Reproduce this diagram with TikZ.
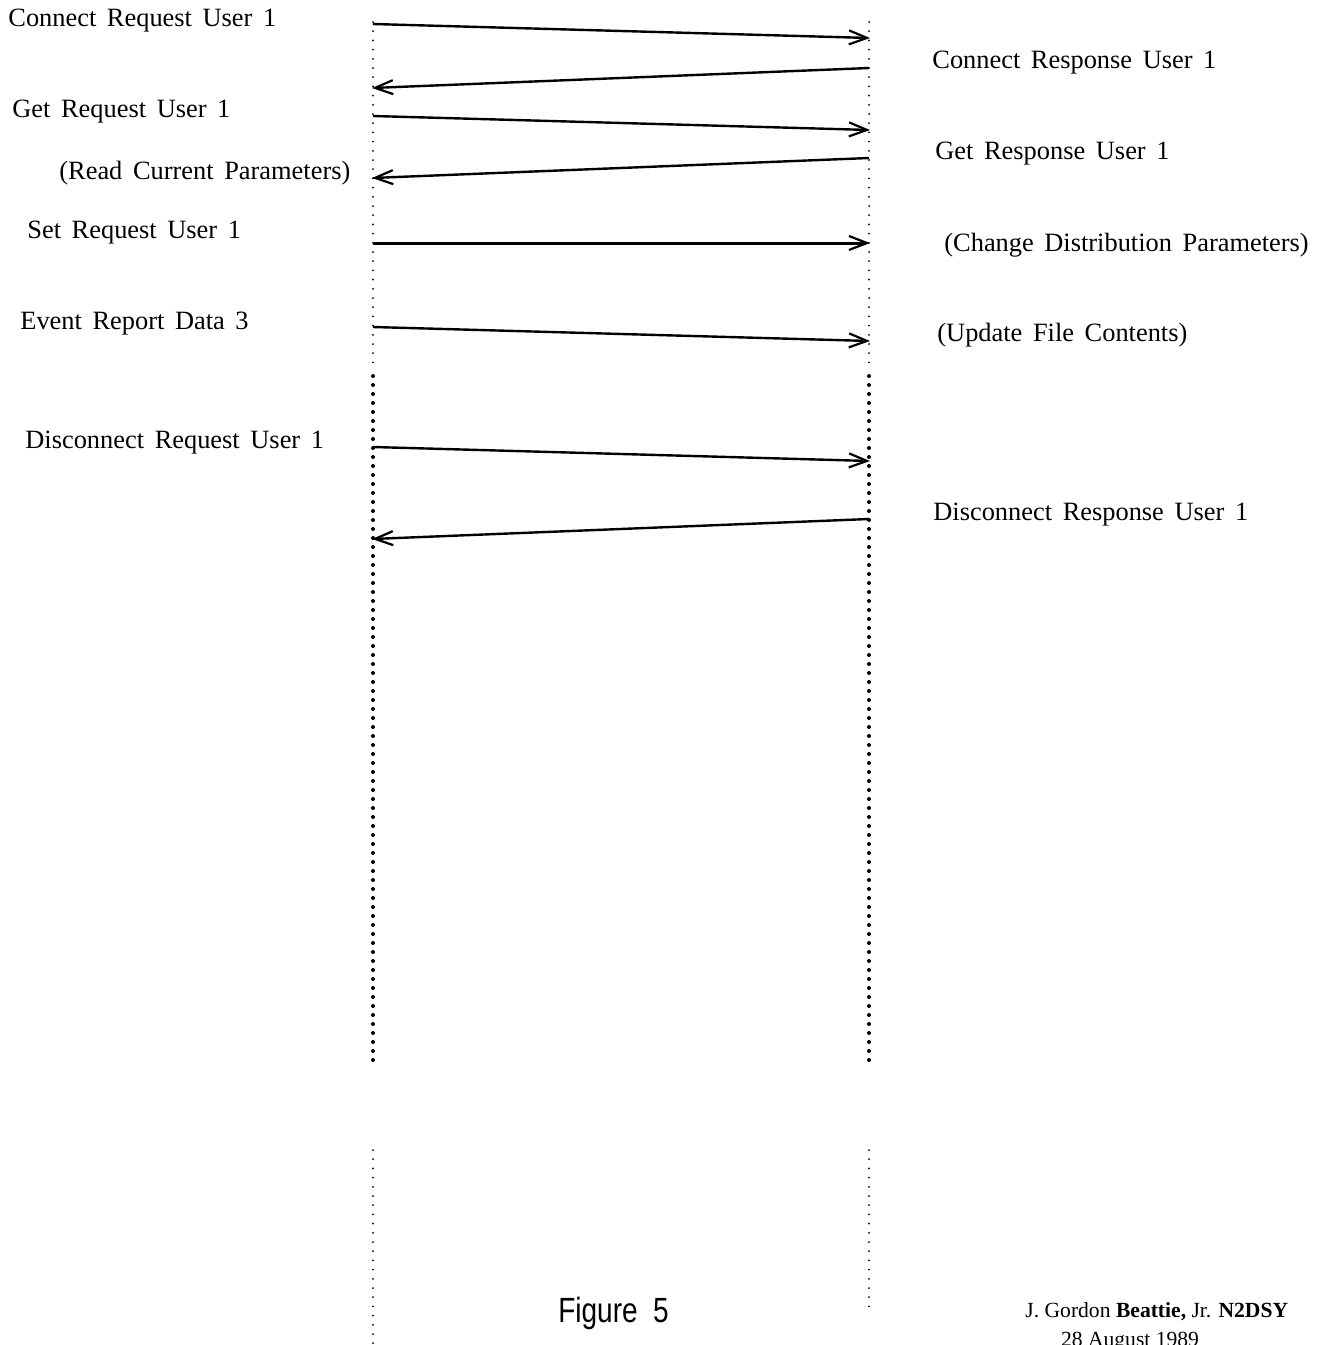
\documentclass[tikz,border=0pt]{standalone}
\usepackage{fontspec}
\setmainfont{Liberation Serif}
\newfontfamily\figfont{Liberation Sans}
\usetikzlibrary{arrows.meta}
\newcommand{\lblfont}{\fontsize{13.2}{16}\selectfont\spaceskip=5.3pt plus 1pt minus 1pt\relax}
\begin{document}
\begin{tikzpicture}[x=0.5pt,y=-0.5pt,
  lbl/.style={anchor=west,inner sep=0pt,font=\lblfont},
  msg/.style={line width=1.2pt,-{Straight Barb[length=9pt,width=7pt,line width=1.1pt]}},
  finedots/.style={line width=1pt,line cap=round,dash pattern=on 0pt off 4.6pt},
  heavydots/.style={line width=2pt,line cap=round,dash pattern=on 0pt off 4.5pt}]
\useasboundingbox (0,0) rectangle (1326,1345);
\clip (0,0) rectangle (1326,1345);
% lifelines
\coordinate (LA) at (373,22); \coordinate (LB) at (373,365);
\coordinate (LC) at (373,376); \coordinate (LD) at (373,1068);
\coordinate (LE) at (373,1150); \coordinate (LF) at (373,1345);
\coordinate (RA) at (869,22); \coordinate (RB) at (869,365);
\coordinate (RC) at (869,376); \coordinate (RD) at (869,1068);
\coordinate (RE) at (869,1150); \coordinate (RF) at (869,1312);
\draw[finedots] (LA) -- (LB);
\draw[heavydots] (LC) -- (LD);
\draw[finedots] (LE) -- (LF);
\draw[finedots] (RA) -- (RB);
\draw[heavydots] (RC) -- (RD);
\draw[finedots] (RE) -- (RF);
% message endpoints
\coordinate (a1) at (373,24);  \coordinate (b1) at (870,38);
\coordinate (a2) at (869,68);  \coordinate (b2) at (372,88);
\coordinate (a3) at (373,116); \coordinate (b3) at (870,130);
\coordinate (a4) at (869,158); \coordinate (b4) at (372,178);
\coordinate (a5) at (373,243); \coordinate (b5) at (870,243);
\coordinate (a6) at (373,327); \coordinate (b6) at (870,341);
\coordinate (a7) at (373,447); \coordinate (b7) at (870,461);
\coordinate (a8) at (869,519); \coordinate (b8) at (372,539);
\draw[msg] (a1) -- (b1);
\draw[msg] (a2) -- (b2);
\draw[msg] (a3) -- (b3);
\draw[msg] (a4) -- (b4);
\draw[msg,line width=1.5pt] (a5) -- (b5);
\draw[msg] (a6) -- (b6);
\draw[msg] (a7) -- (b7);
\draw[msg] (a8) -- (b8);
% labels
\node[lbl] (t1) at (8,21) {Connect Request User 1};
\node[lbl] (t2) at (932,63) {Connect Response User 1};
\node[lbl] (t3) at (12,112) {Get Request User 1};
\node[lbl] (t4) at (59,173) {(Read Current Parameters)};
\node[lbl] (t5) at (935,154) {Get Response User 1};
\node[lbl] (t6) at (27,233) {Set Request User 1};
\node[lbl] (t7) at (944,245) {(Change Distribution Parameters)};
\node[lbl] (t8) at (20,324) {Event Report Data 3};
\node[lbl] (t9) at (937,335) {(Update File Contents)};
\node[lbl] (t10) at (25,443) {Disconnect Request User 1};
\node[lbl] (t11) at (933,515) {Disconnect Response User 1};
\node[anchor=west,inner sep=0pt,xscale=0.8,font=\figfont\fontsize{17.5}{20}\selectfont] (fig) at (558,1313) {Figure\ \ 5};
\node[anchor=west,inner sep=0pt,font=\fontsize{10.8}{12}\selectfont] (auth) at (1025,1312) {J. Gordon \textbf{Beattie,} Jr. \textbf{N2DSY}};
\node[anchor=north,inner sep=0pt,font=\fontsize{10.8}{12}\selectfont] (date) at (1130,1332) {28 August 1989};
\end{tikzpicture}
\end{document}
